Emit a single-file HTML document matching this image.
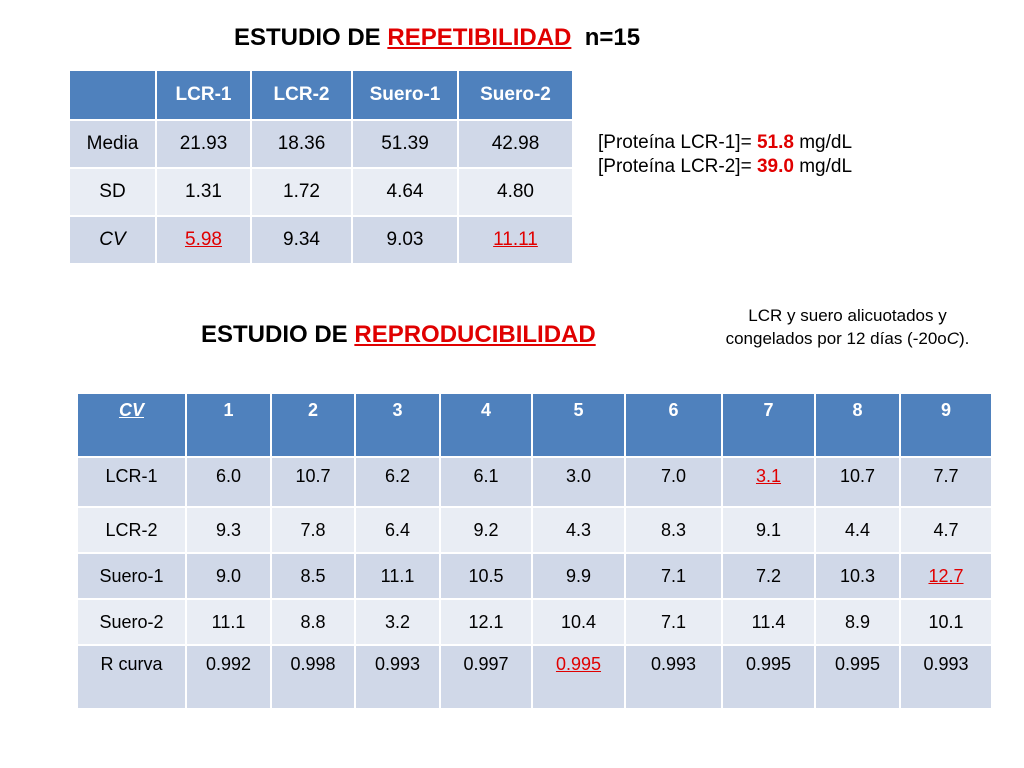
<!DOCTYPE html>
<html><head><meta charset="utf-8"><style>
body{margin:0;width:1024px;height:768px;background:#fff;position:relative;font-family:"Liberation Sans",sans-serif;overflow:hidden}
.t{position:absolute;white-space:nowrap}
table{position:absolute;border-collapse:collapse;table-layout:fixed}
td{border:2px solid #fff;text-align:center;padding:0;color:#000}
tr.h td{background:#4f81bd;color:#fff;font-weight:bold}
tr.a td{background:#d0d8e8}
tr.b td{background:#e9edf4}
.r{color:#e00000;text-decoration:underline}
h1{margin:0;font-size:24px;font-weight:bold}
</style></head><body>
<div class="t" style="left:234px;top:24px;font-size:24px;font-weight:bold">ESTUDIO DE <span style="color:#e00000;text-decoration:underline">REPETIBILIDAD</span>&nbsp; n=15</div>

<table style="left:68px;top:69px;width:504px;font-size:19px">
<colgroup><col style="width:87px"><col style="width:95px"><col style="width:101px"><col style="width:106px"><col style="width:115px"></colgroup>
<tr class="h" style="height:50px"><td></td><td>LCR-1</td><td>LCR-2</td><td>Suero-1</td><td>Suero-2</td></tr>
<tr class="a" style="height:48px"><td>Media</td><td>21.93</td><td>18.36</td><td>51.39</td><td>42.98</td></tr>
<tr class="b" style="height:48px"><td>SD</td><td>1.31</td><td>1.72</td><td>4.64</td><td>4.80</td></tr>
<tr class="a" style="height:48px"><td><i>CV</i></td><td class="r">5.98</td><td>9.34</td><td>9.03</td><td class="r">11.11</td></tr>
</table>

<div class="t" style="left:598px;top:131px;font-size:19px;line-height:24px">[Proteína LCR-1]= <b style="color:#e00000">51.8</b> mg/dL<br>[Proteína LCR-2]= <b style="color:#e00000">39.0</b> mg/dL</div>

<div class="t" style="left:201px;top:321px;font-size:24px;font-weight:bold">ESTUDIO DE <span style="color:#e00000;text-decoration:underline">REPRODUCIBILIDAD</span></div>
<div class="t" style="left:690px;top:304px;width:315px;text-align:center;font-size:17px;line-height:23px">LCR y suero alicuotados y<br>congelados por 12 días (-20o<i>C</i>).</div>

<table style="left:76px;top:392px;width:915px;font-size:18px">
<colgroup><col style="width:109px"><col style="width:85px"><col style="width:84px"><col style="width:85px"><col style="width:92px"><col style="width:93px"><col style="width:97px"><col style="width:93px"><col style="width:85px"><col style="width:92px"></colgroup>
<tr class="h" style="height:64px;vertical-align:top"><td style="padding-top:6px"><i><u>CV</u></i></td><td style="padding-top:6px">1</td><td style="padding-top:6px">2</td><td style="padding-top:6px">3</td><td style="padding-top:6px">4</td><td style="padding-top:6px">5</td><td style="padding-top:6px">6</td><td style="padding-top:6px">7</td><td style="padding-top:6px">8</td><td style="padding-top:6px">9</td></tr>
<tr class="a" style="height:50px;vertical-align:top"><td style="padding-top:8px">LCR-1</td><td style="padding-top:8px">6.0</td><td style="padding-top:8px">10.7</td><td style="padding-top:8px">6.2</td><td style="padding-top:8px">6.1</td><td style="padding-top:8px">3.0</td><td style="padding-top:8px">7.0</td><td class="r" style="padding-top:8px">3.1</td><td style="padding-top:8px">10.7</td><td style="padding-top:8px">7.7</td></tr>
<tr class="b" style="height:46px"><td>LCR-2</td><td>9.3</td><td>7.8</td><td>6.4</td><td>9.2</td><td>4.3</td><td>8.3</td><td>9.1</td><td>4.4</td><td>4.7</td></tr>
<tr class="a" style="height:46px"><td>Suero-1</td><td>9.0</td><td>8.5</td><td>11.1</td><td>10.5</td><td>9.9</td><td>7.1</td><td>7.2</td><td>10.3</td><td class="r">12.7</td></tr>
<tr class="b" style="height:46px"><td>Suero-2</td><td>11.1</td><td>8.8</td><td>3.2</td><td>12.1</td><td>10.4</td><td>7.1</td><td>11.4</td><td>8.9</td><td>10.1</td></tr>
<tr class="a" style="height:64px;vertical-align:top"><td style="padding-top:8px">R curva</td><td style="padding-top:8px">0.992</td><td style="padding-top:8px">0.998</td><td style="padding-top:8px">0.993</td><td style="padding-top:8px">0.997</td><td class="r" style="padding-top:8px">0.995</td><td style="padding-top:8px">0.993</td><td style="padding-top:8px">0.995</td><td style="padding-top:8px">0.995</td><td style="padding-top:8px">0.993</td></tr>
</table>
</body></html>
